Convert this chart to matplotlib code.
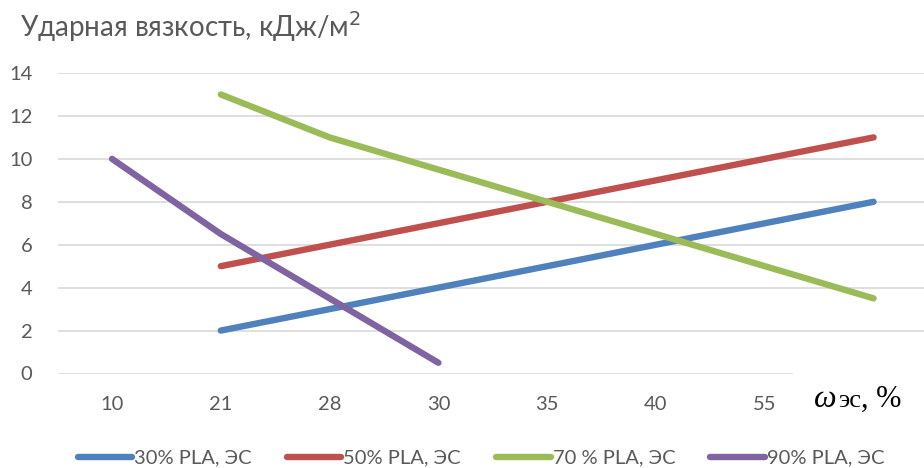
import matplotlib
matplotlib.use("Agg")
import matplotlib.pyplot as plt
from matplotlib.patches import Rectangle

categories = ["10", "21", "28", "30", "35", "40", "55", ""]
series_names = ["30% PLA, ЭС", "50% PLA, ЭС", "70 % PLA, ЭС", "90% PLA, ЭС"]
pla30 = [None, 2, 3, 4, 5, 6, 7, 8]
pla50 = [None, 5, 6, 7, 8, 9, 10, 11]
pla70 = [None, 13, 11, 9.5, 8, 6.5, 5, 3.5]
pla90 = [10, 6.5, 3.5, 0.5, None, None, None, None]
colors = ["#4f81bd", "#c0504d", "#9bbb59", "#8064a2"]
y_ticks = [0, 2, 4, 6, 8, 10, 12, 14]

plt.rcParams['font.family'] = ['Lato', 'DejaVu Sans']

fig = plt.figure(figsize=(9.24, 4.68), dpi=100)
W, H = 924, 468
left_px, right_px = 57.6, 57.6 + 8 * 108.8
top_px, bot_px = 73, 373.5
ax = fig.add_axes([left_px / W, 1 - bot_px / H, (right_px - left_px) / W, (bot_px - top_px) / H])

x = list(range(len(categories)))
for vals, name, c in zip([pla30, pla50, pla70, pla90], series_names, colors):
    xs = [xi for xi, v in zip(x, vals) if v is not None]
    ys = [v for v in vals if v is not None]
    ax.plot(xs, ys, color=c, lw=4.6, solid_capstyle='round', solid_joinstyle='round', label=name, zorder=3)

ax.set_xlim(-0.5, len(categories) - 0.5)
ax.set_ylim(0, 14)
ax.set_yticks(y_ticks)
ax.set_xticks(x)
ax.set_xticklabels(categories)
ax.grid(axis='y', color='#d9d9d9', lw=1.2)
ax.set_axisbelow(True)
for s in ax.spines.values():
    s.set_visible(False)
ax.tick_params(axis='both', length=0, colors='#595959', labelsize=14.5)
ax.tick_params(axis='y', pad=18)
ax.tick_params(axis='x', pad=16)

# title
fig.text(20 / W, 1 - 27 / H, "Ударная вязкость, кДж/м$^2$", fontsize=20, color='#595959',
         ha='left', va='center')

# axis label box (white) and text
fig.patches.append(Rectangle((793 / W, 1 - 425 / H), (W - 793) / W + 0.01, 60 / H,
                             transform=fig.transFigure, facecolor='white', edgecolor='none', zorder=5))
fig.text(814 / W, 1 - 407 / H, "ω", fontsize=23, family='Liberation Serif', style='italic',
         color='black', ha='left', va='baseline', zorder=6)
fig.text(838 / W, 1 - 407 / H, "эс", fontsize=19, family='Liberation Serif',
         color='black', ha='left', va='baseline', zorder=6)
fig.text(861 / W, 1 - 407 / H, ", %", fontsize=22, family='Liberation Serif',
         color='black', ha='left', va='baseline', zorder=6)

leg = fig.legend(loc='center', bbox_to_anchor=(481 / W, 1 - 458 / H), ncol=4, frameon=False,
                 fontsize=14.5, handlelength=2.7, handletextpad=0.1, columnspacing=1.75,
                 labelcolor='#595959')

fig.savefig("out.png", dpi=100)
